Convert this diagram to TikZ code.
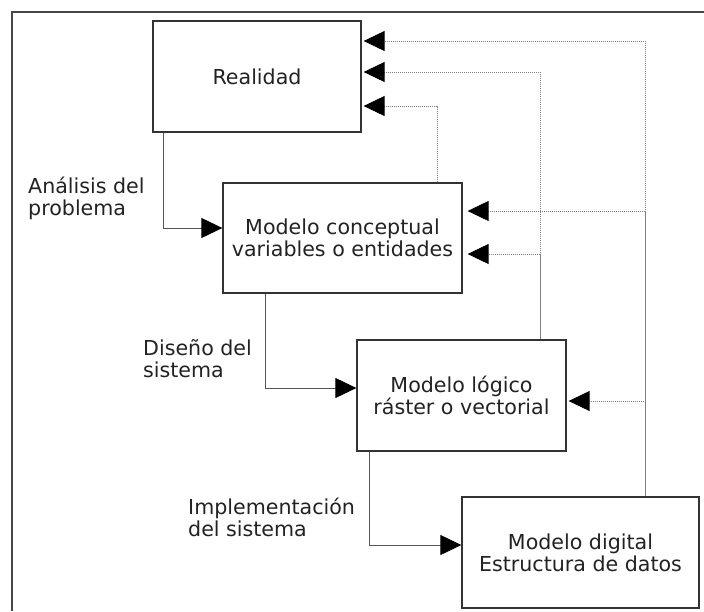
\documentclass[tikz,border=0pt]{standalone}
\usepackage{fontspec}
\setmainfont{DejaVu Sans}
\usetikzlibrary{arrows.meta}
\definecolor{boxc}{HTML}{333333}
\definecolor{linec}{HTML}{555555}
\definecolor{dotc}{HTML}{808080}
\definecolor{txtc}{HTML}{222222}
\begin{document}
\begin{tikzpicture}[x=1pt,y=-1pt,
  txt/.style={font=\fontsize{20.6}{22}\selectfont, text=txtc},
  box/.style={txt, draw=boxc, line width=1.3pt, inner sep=0pt, align=center},
  lbl/.style={txt, inner sep=0pt, align=left, anchor=west},
  flow/.style={draw=linec, line width=1pt, -{Triangle[length=21pt,width=20pt,color=black]}},
  fb/.style={draw=dotc, line width=0.9pt, dash pattern=on 1pt off 1pt, -{Triangle[length=21pt,width=20pt,color=black]}},
  framec/.style={draw=boxc!90, line width=1.6pt}]
\useasboundingbox (0,0) rectangle (704,611);
\draw[framec] (12,611) -- (12,12) -- (704,12);

\node[box, minimum width=208pt, minimum height=111pt] (real) at (257,76.5) {Realidad};
\node[box, minimum width=239pt, minimum height=110pt] (conc) at (342.5,238) {Modelo conceptual\\variables o entidades};
\node[box, minimum width=209pt, minimum height=111pt] (logi) at (461.5,395.5) {Modelo lógico\\ráster o vectorial};
\node[box, minimum width=237pt, minimum height=111pt] (digi) at (580.5,552.5) {Modelo digital\\Estructura de datos};

\node[lbl] (l1) at (28,198.5) {Análisis del\\problema};
\node[lbl] (l2) at (143,359) {Diseño del\\sistema};
\node[lbl] (l3) at (188,517.4) {Implementación\\del sistema};

\draw[flow] (real.south -| 163,0) |- (conc.west |- 0,228);
\draw[flow] (conc.south -| 265,0) |- (logi.west |- 0,388);
\draw[flow] (logi.south -| 369,0) |- (digi.west |- 0,545);

\draw[fb] (digi.north -| 645,0) |- ([xshift=2pt]real.east |- 0,41);
\draw[fb, dash phase=1pt] (digi.north -| 645,0) |- ([xshift=5pt]conc.east |- 0,211);
\draw[fb] (digi.north -| 645,0) |- ([xshift=2pt]logi.east |- 0,401);
\draw[fb] (logi.north -| 540,0) |- ([xshift=2pt]real.east |- 0,72);
\draw[fb, dash phase=1pt] (logi.north -| 540,0) |- ([xshift=5pt]conc.east |- 0,254);
\draw[fb] (conc.north -| 437,0) |- ([xshift=2pt]real.east |- 0,106);
\end{tikzpicture}
\end{document}
